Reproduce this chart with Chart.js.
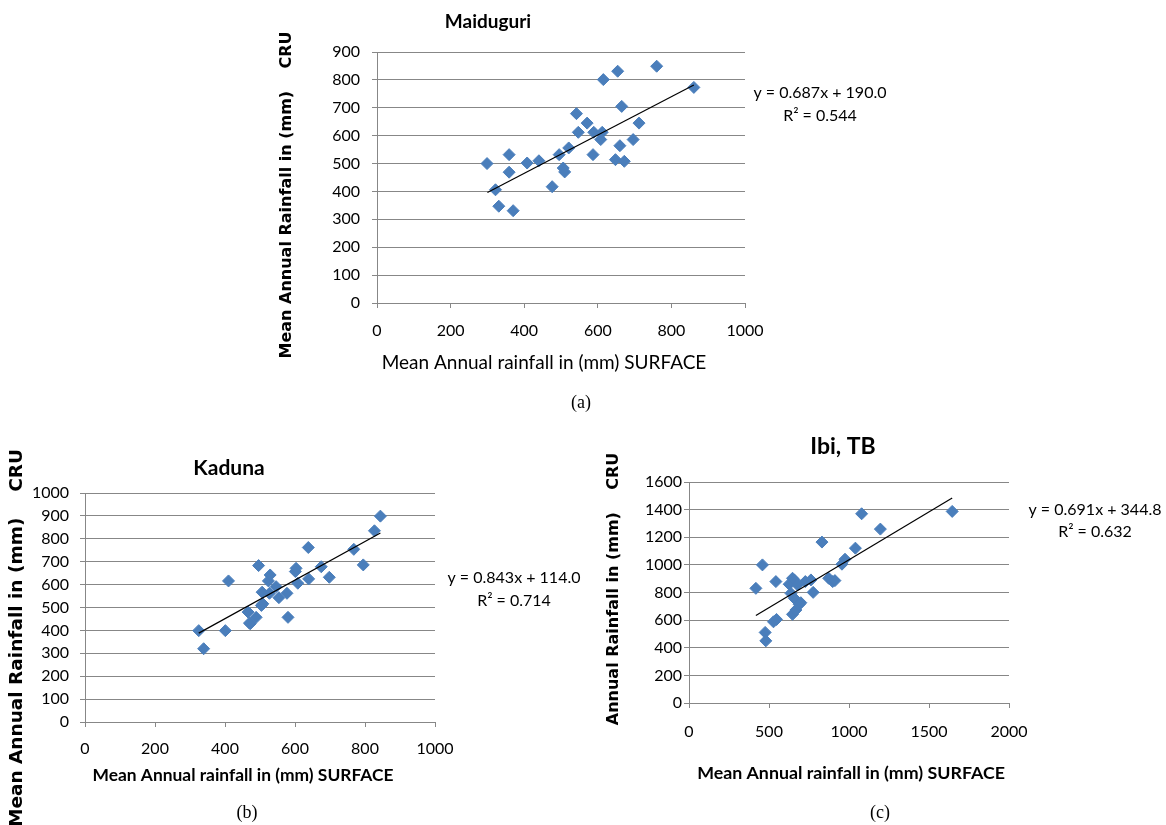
<!DOCTYPE html>
<html>
<head>
<meta charset="utf-8">
<script src="https://cdn.jsdelivr.net/npm/chart.js@4.4.1/dist/chart.umd.min.js"></script>
<style>
  body { margin: 0; background: #fff; }
  #wrap { position: relative; width: 1166px; height: 825px; }
  canvas { position: absolute; left: 0; top: 0; }
</style>
</head>
<body>
<div id="wrap">
  <canvas id="chartA" width="1166" height="825"></canvas>
  <canvas id="chartB" width="1166" height="825"></canvas>
  <canvas id="chartC" width="1166" height="825"></canvas>
</div>
<script>
'use strict';

// Maiduguri: surface (x) vs CRU (y), mm
const maidX = [299, 322, 331, 370, 359, 359, 408, 440, 476, 495, 506, 510, 521, 542, 547,
  571, 589, 587, 608, 612, 615, 654, 665, 660, 648, 672, 696, 712, 760, 861];
const maidY = [500, 406, 347, 331, 532, 469, 502, 510, 417, 532, 484, 470, 556, 679, 612,
  645, 612, 532, 586, 612, 801, 831, 705, 564, 514, 508, 586, 645, 849, 773];
const maidTrendX = [300, 861];
const maidTrendY = [396, 782];

// Kaduna
const kadX = [325, 339, 401, 410, 466, 472, 470, 489, 496, 506, 504, 508, 524, 529, 527,
  546, 554, 577, 580, 601, 603, 608, 638, 639, 675, 698, 768, 795, 827, 844];
const kadY = [399, 320, 399, 616, 480, 429, 432, 457, 683, 567, 509, 516, 616, 642, 562,
  591, 543, 562, 457, 657, 671, 606, 762, 625, 678, 632, 754, 686, 835, 899];
const kadTrendX = [325, 844];
const kadTrendY = [388, 825];

// Ibi, TB
const ibiX = [418, 459, 476, 480, 528, 547, 543, 626, 647, 658, 637, 658, 647, 668, 689,
  699, 678, 727, 762, 776, 831, 873, 898, 912, 956, 975, 1040, 1079, 1196, 1645];
const ibiY = [830, 1000, 511, 450, 588, 605, 879, 860, 903, 891, 794, 758, 642, 673, 714,
  726, 855, 879, 891, 801, 1165, 903, 879, 886, 1005, 1041, 1121, 1370, 1259, 1387];
const ibiTrendX = [418, 1645];
const ibiTrendY = [634, 1484];

const titles = ['Maiduguri', 'Kaduna', 'Ibi, TB'];
const xTitle = 'Mean Annual rainfall in (mm) SURFACE';
const yTitles = ['Mean Annual Rainfall in (mm)    CRU', 'Mean Annual Rainfall in (mm)    CRU',
  'Annual Rainfall in (mm)    CRU'];
const equations = ['y = 0.687x + 190.0', 'y = 0.843x + 114.0', 'y = 0.691x + 344.8'];
const rSquared = ['R\u00b2 = 0.544', 'R\u00b2 = 0.714', 'R\u00b2 = 0.632'];
const captions = ['(a)', '(b)', '(c)'];

const GRID = '#878787';
const BLUE = '#4a7ebb';
const TICK_FONT = { family: 'Lato, "Open Sans", sans-serif', size: 16 };

function pts(xs, ys) {
  return xs.map((x, i) => ({ x: x, y: ys[i] }));
}

// draws the free text (titles, axis titles, equations, captions)
const notesPlugin = {
  id: 'notes',
  afterDraw(chart, args, opts) {
    const ctx = chart.ctx;
    (opts.items || []).forEach(it => {
      ctx.save();
      ctx.font = it.font;
      ctx.fillStyle = '#000';
      ctx.textAlign = 'center';
      ctx.textBaseline = 'middle';
      ctx.translate(it.x, it.y);
      if (it.rotate) ctx.rotate(-Math.PI / 2);
      ctx.fillText(it.text, 0, 0);
      ctx.restore();
    });
  }
};

function makeChart(id, o) {
  return new Chart(document.getElementById(id), {
    type: 'scatter',
    data: {
      datasets: [{
        type: 'line',
        data: pts(o.trendX, o.trendY),
        borderColor: '#000',
        borderWidth: 1.2,
        pointRadius: 0,
        fill: false
      }, {
        data: pts(o.xs, o.ys),
        pointStyle: 'rectRot',
        pointRadius: 6,
        backgroundColor: BLUE,
        borderColor: BLUE,
        borderWidth: 1
      }]
    },
    options: {
      responsive: false,
      animation: false,
      devicePixelRatio: 1,
      layout: { padding: o.padding },
      plugins: {
        legend: { display: false },
        tooltip: { enabled: false },
        notes: { items: o.notes }
      },
      scales: {
        x: {
          type: 'linear',
          min: 0, max: o.xMax,
          ticks: { stepSize: o.xStep, color: '#000', font: TICK_FONT, padding: o.xPad,
            maxRotation: 0, callback: v => String(v) },
          grid: { drawOnChartArea: false, drawTicks: true, tickLength: 5, color: GRID },
          border: { color: GRID },
          afterFit: s => { s.height = 45; }
        },
        y: {
          type: 'linear',
          min: 0, max: o.yMax,
          ticks: { stepSize: o.yStep, color: '#000', font: TICK_FONT, padding: o.yPad,
            callback: v => String(v) },
          grid: { color: GRID, tickLength: 5 },
          border: { color: GRID },
          afterFit: s => { s.width = 70; }
        }
      }
    },
    plugins: [notesPlugin]
  });
}

const fTitle = 'bold 19px Lato, "Open Sans", sans-serif';
const fEq = '16px Lato, "Open Sans", sans-serif';
const fCap = '18px "Liberation Serif", serif';

makeChart('chartA', {
  xs: maidX, ys: maidY, trendX: maidTrendX, trendY: maidTrendY,
  xMax: 1000, xStep: 200, yMax: 900, yStep: 100, xPad: 13, yPad: 12,
  padding: { left: 307, right: 421, top: 52, bottom: 477 },
  notes: [
    { text: titles[0], x: 488, y: 22, font: fTitle },
    { text: xTitle, x: 544, y: 363, font: '19px Lato, "Open Sans", sans-serif' },
    { text: yTitles[0], x: 287, y: 195, font: 'bold 16px "DejaVu Sans", sans-serif', rotate: true },
    { text: equations[0], x: 820, y: 93, font: fEq },
    { text: rSquared[0], x: 820, y: 116, font: fEq },
    { text: captions[0], x: 581, y: 403, font: fCap }
  ]
});

makeChart('chartB', {
  xs: kadX, ys: kadY, trendX: kadTrendX, trendY: kadTrendY,
  xMax: 1000, xStep: 200, yMax: 1000, yStep: 100, xPad: 12, yPad: 11,
  padding: { left: 15, right: 731, top: 493, bottom: 58 },
  notes: [
    { text: titles[1], x: 229, y: 468, font: 'bold 21px Lato, "Open Sans", sans-serif' },
    { text: xTitle, x: 243, y: 775, font: 'bold 17.4px Lato, "Open Sans", sans-serif' },
    { text: yTitles[1], x: 17, y: 638, font: 'bold 18.5px "DejaVu Sans", sans-serif', rotate: true },
    { text: equations[1], x: 514, y: 578, font: fEq },
    { text: rSquared[1], x: 514, y: 601, font: fEq },
    { text: captions[1], x: 247, y: 813, font: fCap }
  ]
});

makeChart('chartC', {
  xs: ibiX, ys: ibiY, trendX: ibiTrendX, trendY: ibiTrendY,
  xMax: 2000, xStep: 500, yMax: 1600, yStep: 200, xPad: 14, yPad: 2,
  padding: { left: 619, right: 157, top: 482, bottom: 77 },
  notes: [
    { text: titles[2], x: 843, y: 447, font: 'bold 23px Lato, "Open Sans", sans-serif' },
    { text: xTitle, x: 851, y: 773, font: 'bold 17.8px Lato, "Open Sans", sans-serif' },
    { text: yTitles[2], x: 614, y: 589, font: 'bold 16px "DejaVu Sans", sans-serif', rotate: true },
    { text: equations[2], x: 1095, y: 510, font: fEq },
    { text: rSquared[2], x: 1095, y: 532, font: fEq },
    { text: captions[2], x: 880, y: 813, font: fCap }
  ]
});
</script>
</body>
</html>
